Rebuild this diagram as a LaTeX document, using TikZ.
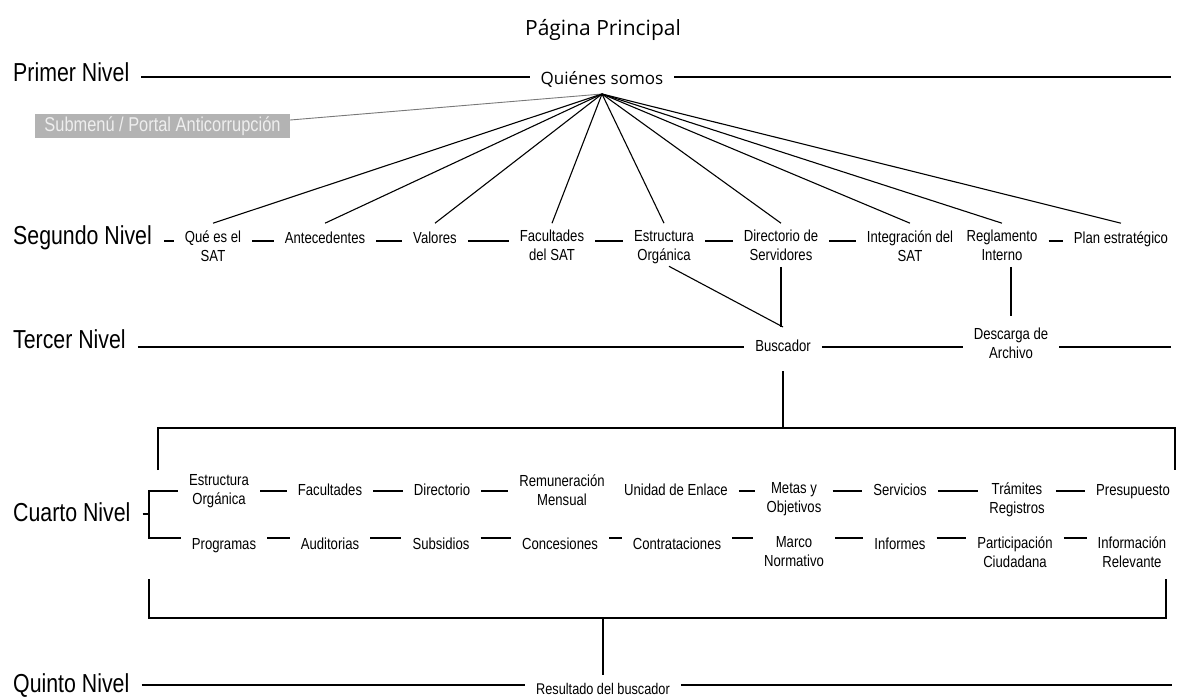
\documentclass[tikz,border=0pt]{standalone}
\usepackage{fontspec}
\setmainfont{Liberation Sans}
\newfontfamily\narrowf[FakeStretch=0.82]{Liberation Sans}
\newfontfamily\humf{Open Sans}
\definecolor{boxgray}{RGB}{179,179,179}
\definecolor{boxtext}{RGB}{238,238,238}
\definecolor{subline}{RGB}{120,120,120}
\begin{document}
\begin{tikzpicture}[x=1pt,y=-1pt,
  ln/.style={line width=1.1pt, black},
  lvl/.style={font=\narrowf\fontsize{26}{30}\selectfont, anchor=base west, inner xsep=12pt, inner ysep=0pt},
  item/.style={font=\narrowf\fontsize{16}{19}\selectfont, align=center, anchor=north, inner xsep=11pt, inner ysep=0pt,
    execute at begin node=\strut, execute at end node=\strut},
  ttl/.style={font=\humf\fontsize{21}{25}\selectfont, anchor=base},
  top/.style={font=\humf\fontsize{17}{20}\selectfont, anchor=base, inner xsep=11pt},
  subbox/.style={fill=boxgray, text=boxtext, minimum width=255pt, minimum height=24pt, inner sep=0pt,
    font=\narrowf\fontsize{20}{22}\selectfont}
]
\useasboundingbox (0,0) rectangle (1192,698);

% title and first level
\node[ttl] (pp) at (603,35.5) {Página Principal};
\node[lvl] (pn) at (1,82) {Primer Nivel};
\node[top] (qs) at (602,85) {Quiénes somos};
\coordinate (L1) at (0,77);
\coordinate (E1) at (1171,77);
\draw[ln] (pn.east |- L1) -- (qs.west |- L1);
\draw[ln] (qs.east |- L1) -- (E1);
\coordinate (fan) at (602,94);

\node[subbox] (sub) at (162.5,126.5) {Submenú / Portal Anticorrupción};
\draw[subline, line width=0.9pt] ([yshift=6.5pt]sub.east) -- (fan);

% second level
\node[lvl] (sn) at (1,244) {Segundo Nivel};
\node[item] (q1) at (213,230.2) {Qué es el\\SAT};
\node[item] (q2) at (325,230.2) {Antecedentes};
\node[item] (q3) at (435,230.2) {Valores};
\node[item] (q4) at (552,230.2) {Facultades\\del SAT};
\node[item] (q5) at (664,230.2) {Estructura\\Orgánica};
\node[item] (q6) at (781,230.2) {Directorio de\\Servidores};
\node[item] (q7) at (910,230.2) {Integración del\\SAT};
\node[item] (q8) at (1002,230.2) {Reglamento\\Interno};
\node[item] (q9) at (1121,230.2) {Plan estratégico};
\foreach \n in {q1,q2,q3,q4,q5,q6,q7,q8,q9}
  \draw[ln] (fan) -- ([yshift=7pt]\n.north);
\coordinate (L2) at (0,241);
\foreach \a/\b in {sn/q1,q1/q2,q2/q3,q3/q4,q4/q5,q5/q6,q6/q7,q8/q9}
  \draw[ln] (\a.east |- L2) -- (\b.west |- L2);

% third level
\node[lvl] (tn) at (1,348) {Tercer Nivel};
\node[item] (bus) at (783,337.7) {Buscador};
\node[item] (desc) at (1011,328.2) {Descarga de\\Archivo};
\coordinate (L3) at (0,347);
\coordinate (E3) at (1171,347);
\draw[ln] (tn.east |- L3) -- (bus.west |- L3);
\draw[ln] (bus.east |- L3) -- (desc.west |- L3);
\draw[ln] (desc.east |- L3) -- (E3);
\coordinate (bt) at ([yshift=10.7pt]bus.north);
\draw[ln] ([xshift=5pt]q5.south) -- (bt);
\draw[ln] (q6.south) -- (q6.south |- bt);
\draw[ln] (q8.south -| desc.north) -- ([yshift=12pt]desc.north);

% bracket above fourth level
\coordinate (TB) at (0,428);
\coordinate (tbl) at (158,470);
\coordinate (tbr) at (1175,470);
\draw[ln] ([yshift=-14pt]bus.south) -- (bus.south |- TB);
\draw[ln] (tbl) -- (tbl |- TB) -- (tbr |- TB) -- (tbr);

% fourth level
\node[lvl] (cn) at (1,521) {Cuarto Nivel};
\node[item] (e1) at (219,474.4) {Estructura\\Orgánica};
\node[item] (e2) at (330,482.4) {Facultades};
\node[item] (e3) at (442,482.4) {Directorio};
\node[item] (e4) at (562,474.4) {Remuneración\\Mensual};
\node[item] (e5) at (676,482.4) {Unidad de Enlace};
\node[item] (e6) at (794,482.4) {Metas y\\Objetivos};
\node[item] (e7) at (900,482.4) {Servicios};
\node[item] (e8) at (1017,482.4) {Trámites\\Registros};
\node[item] (e9) at (1133,482.4) {Presupuesto};

\node[item] (p1) at (224,536.4) {Programas};
\node[item] (p2) at (330,536.4) {Auditorias};
\node[item] (p3) at (441,536.4) {Subsidios};
\node[item] (p4) at (560,536.4) {Concesiones};
\node[item] (p5) at (677,536.4) {Contrataciones};
\node[item] (p6) at (794,536.4) {Marco\\Normativo};
\node[item] (p7) at (900,536.4) {Informes};
\node[item] (p8) at (1015,536.4) {Participación\\Ciudadana};
\node[item] (p9) at (1132,536.4) {Información\\Relevante};

\coordinate (R1) at (0,491);
\coordinate (R2) at (0,538);
\coordinate (sp) at (149,514);
\draw[ln] (cn.east |- sp) -- (sp);
\draw[ln] (e1.west |- R1) -- (sp |- R1) -- (sp |- R2) -- (p1.west |- R2);
\foreach \a/\b in {e1/e2,e2/e3,e3/e4,e5/e6,e6/e7,e7/e8,e8/e9}
  \draw[ln] (\a.east |- R1) -- (\b.west |- R1);
\foreach \a/\b in {p1/p2,p2/p3,p3/p4,p4/p5,p5/p6,p6/p7,p7/p8,p8/p9}
  \draw[ln] (\a.east |- R2) -- (\b.west |- R2);

% bracket below fourth level
\coordinate (BB) at (0,618);
\coordinate (bbl) at (149,579);
\coordinate (bbr) at (1166,579);
\draw[ln] (bbl) -- (bbl |- BB) -- (bbr |- BB) -- (bbr);

% fifth level
\node[lvl] (qn) at (1,692.5) {Quinto Nivel};
\node[item, font=\narrowf\fontsize{15.5}{18}\selectfont] (res) at (603,681.4) {Resultado del buscador};
\draw[ln] (res.north |- BB) -- ([yshift=6pt]res.north);
\coordinate (L5) at (0,685);
\coordinate (E5) at (1172,685);
\draw[ln] (qn.east |- L5) -- (res.west |- L5);
\draw[ln] (res.east |- L5) -- (E5);
\end{tikzpicture}
\end{document}
